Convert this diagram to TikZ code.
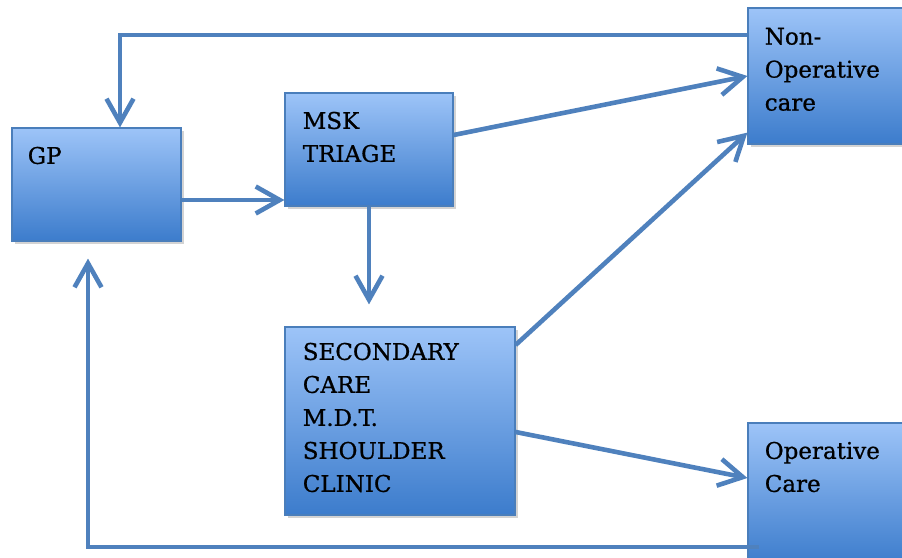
\documentclass[tikz,border=0pt]{standalone}
\usepackage{fontspec}
\setmainfont{DejaVu Serif}[FakeBold=0.8]
\usepackage{tikz}
\usetikzlibrary{arrows.meta,positioning,shadows}
\definecolor{lineblue}{RGB}{79,129,189}
\definecolor{boxtop}{RGB}{157,196,248}
\definecolor{boxbot}{RGB}{60,124,204}
\definecolor{boxedge}{RGB}{74,126,187}
\tikzset{>={Straight Barb[length=12pt,width=13.5pt]}}
\tikzset{
  box/.style={draw=boxedge, line width=0.6pt, top color=boxtop, bottom color=boxbot,
    drop shadow={shadow xshift=1.5pt,shadow yshift=-1.5pt,opacity=0.35}, inner sep=0},
  txt/.style={inner sep=0, align=left, font=\fontsize{11.5}{16.5}\selectfont},
  conn/.style={draw=lineblue, line width=2.3pt}
}

\begin{document}
\begin{tikzpicture}[x=0.5pt,y=-0.5pt]
        \clip (0,0) rectangle (902,558);
        % boxes
        \node[box, minimum width=84.5pt, minimum height=56.5pt] (gp) at (96.5,184.5) {};
        \node[box, minimum width=84pt, minimum height=56.5pt] (msk) at (369,149.5) {};
        \node[box, minimum width=115pt, minimum height=94pt] (sec) at (400,421) {};
        \node[box, minimum width=82pt, minimum height=68pt] (non) at (830,76) {};
        \node[box, minimum width=82pt, minimum height=71pt] (opr) at (830,494) {};

        % texts
        \node[txt, below right=9.5pt and 8pt of gp.north west] (gptext) {GP};
        \node[txt, below right=9.5pt and 9pt of msk.north west] (msktext) {MSK\\TRIAGE};
        \node[txt, below right=8pt and 9pt of sec.north west] (sectext) {SECONDARY\\CARE\\M.D.T.\\SHOULDER\\CLINIC};
        \node[txt, below right=10pt and 8.5pt of non.north west] (nontext) {Non-\\Operative\\care};
        \node[txt, below right=9.5pt and 8.5pt of opr.north west] (oprtext) {Operative\\Care};

        % connectors
        \draw[conn,->] ([yshift=20.5pt]non.west) -| ([xshift=11.75pt]gp.north);
        \draw[conn,->] ([yshift=-7.75pt]gp.east) -- ([yshift=-25.25pt]msk.west);
        \draw[conn,->] ([yshift=7.25pt]msk.east) -- (non.west);
        \draw[conn,->,shorten >=11pt] (msk.south) -- (msk.south |- sec.north);
        \draw[conn,->] ([yshift=38pt]sec.east) -- ([yshift=6pt]non.south west);
        \draw[conn,->] ([yshift=-5.5pt]sec.east) -- ([yshift=8pt]opr.west);
        \draw[conn,->,shorten >=8.5pt] ([xshift=6pt,yshift=-26.5pt]opr.west) -| ([xshift=-4.25pt]gp.south);
\end{tikzpicture}
\end{document}
